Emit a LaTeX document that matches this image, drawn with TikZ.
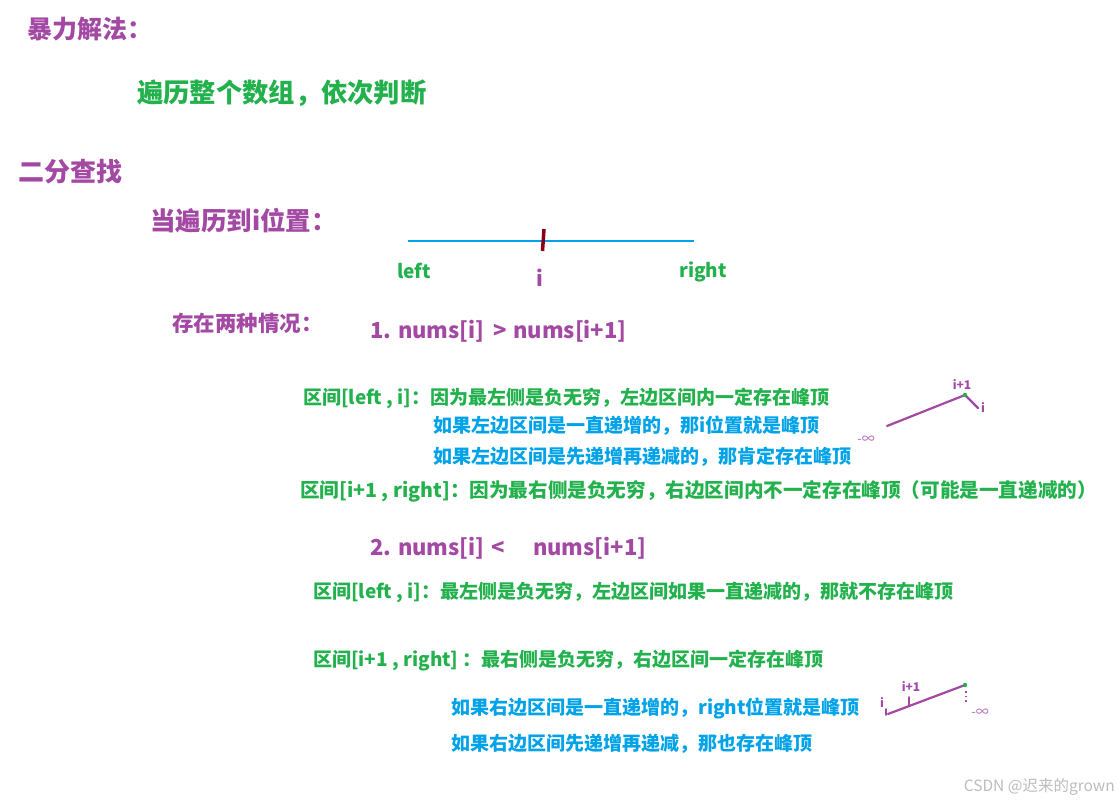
\documentclass[tikz,border=0pt]{standalone}
\usepackage{fontspec}
\setmainfont{Noto Sans CJK SC}
\definecolor{pur}{HTML}{A349A4}
\definecolor{grn}{HTML}{22B14C}
\definecolor{blu}{HTML}{00A2E8}
\definecolor{dred}{HTML}{880015}
\definecolor{wm}{HTML}{BDBDBD}
\newcommand\fsz[1]{\fontsize{#1}{#1}\selectfont}
\tikzset{
  txt/.style={anchor=west, inner sep=0pt, text height=1.2em, text depth=0pt},
  big/.style={txt, font=\bfseries\fsz{25}},
  mid/.style={txt, font=\bfseries\fsz{22}},
  sml/.style={txt, font=\bfseries\fsz{19}},
  tiny/.style={inner sep=0pt, font=\bfseries\fsz{12}, text=pur},
  curve/.style={draw=pur, line width=2.2pt, line cap=round},
}
\begin{document}
\begin{tikzpicture}[x=1pt,y=-1pt]
\useasboundingbox[fill=white] (0,0) rectangle (1119,805);

% headings
\node[big, text=pur] (h1) at (27,33) {暴力解法：};
\node[big, text=grn, font=\bfseries\fsz{26.3}] (h1a) at (137,97) {遍历整个数组，依次判断};
\node[big, text=pur, font=\bfseries\fsz{26}] (h2) at (18,176) {二分查找};
\node[big, text=pur, font=\bfseries\fsz{25.5}] (h2a) at (150,225) {当遍历到i位置：};

% number line
\coordinate (la) at (408,241);
\coordinate (lb) at (694,241);
\draw[blu, line width=2.5pt] (la) -- (lb);
\coordinate (ta) at (544,229);
\coordinate (tb) at (542.5,251);
\draw[dred, line width=3.5pt] (ta) -- (tb);
\node[txt, text=grn, font=\bfseries\fsz{19}] (left) at (397,272) {left};
\node[inner sep=0pt, text=pur, font=\bfseries\fsz{21}] (ipos) at (540,278) {i};
\node[txt, text=grn, font=\bfseries\fsz{19}] (right) at (679,271) {right};

% case 1
\node[mid, text=pur, font=\bfseries\fsz{21.5}] (two) at (172,325) {存在两种情况：};
\node[mid, text=pur] (c1) at (370,332) {1. nums[i]\hspace{0.4em}>\hspace{0.3em}nums[i+1]};
\node[sml, text=grn] (g1) at (303,398) {区间[left , i]：因为最左侧是负无穷，左边区间内一定存在峰顶};
\node[sml, text=blu] (b1) at (433,426) {如果左边区间是一直递增的，那i位置就是峰顶};
\node[sml, text=blu] (b2) at (433,457) {如果左边区间是先递增再递减的，那肯定存在峰顶};
\node[sml, text=grn, font=\bfseries\fsz{19.6}] (g2) at (300,491) {区间[i+1 , right]：因为最右侧是负无穷，右边区间内不一定存在峰顶（可能是一直递减的）};

% sketch 1
\coordinate (s1a) at (887,426);
\coordinate (s1b) at (965,395);
\coordinate (s1c) at (978,408);
\draw[curve] (s1a) -- (s1b) -- (s1c);
\fill[grn] (s1b) circle (2.2pt);
\node[tiny] (s1ip) at (962,385) {i+1};
\node[tiny] (s1i) at (983,408) {i};
\node[tiny, font=\fsz{13}, text=pur!80] (s1inf) at (866,440) {-∞};

% case 2
\node[mid, text=pur] (c2) at (370,549) {2. nums[i]\hspace{0.3em}<\hspace{1.3em}nums[i+1]};
\node[sml, text=grn] (g3) at (313,592) {区间[left , i]：最左侧是负无穷，左边区间如果一直递减的，那就不存在峰顶};
\node[sml, text=grn] (g4) at (313,660) {区间[i+1 , right] ：最右侧是负无穷，右边区间一定存在峰顶};
\node[sml, text=blu] (b3) at (451,708) {如果右边区间是一直递增的，right位置就是峰顶};
\node[sml, text=blu] (b4) at (451,744) {如果右边区间先递增再递减，那也存在峰顶};

% sketch 2
\coordinate (s2a) at (888,714);
\coordinate (s2b) at (965,685);
\draw[curve] (s2a) -- (s2b);
\coordinate (s2t1) at (886,709);
\coordinate (s2t2) at (886,715);
\draw[curve, line width=1.8pt] (s2t1) -- (s2t2);
\coordinate (s2u1) at (909,697);
\coordinate (s2u2) at (909,706);
\draw[curve, line width=1.8pt] (s2u1) -- (s2u2);
\fill[grn] (s2b) circle (2.2pt);
\coordinate (s2d1) at (966,691);
\coordinate (s2d2) at (966,702);
\draw[pur, line width=1.5pt, dash pattern=on 1.5pt off 3pt] (s2d1) -- (s2d2);
\node[tiny] (s2i) at (882,703) {i};
\node[tiny] (s2ip) at (911,687) {i+1};
\node[tiny, font=\fsz{13}, text=pur!80] (s2inf) at (980,713) {-∞};

% watermark
\node[txt, anchor=east, text=wm, font=\fsz{15.5}] (wmk) at (1115,785) {CSDN @迟来的grown};
\end{tikzpicture}
\end{document}
